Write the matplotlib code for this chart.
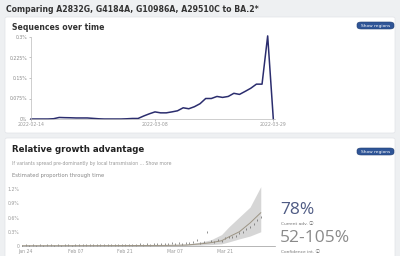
import matplotlib
matplotlib.use("Agg")
import matplotlib.pyplot as plt
from matplotlib.patches import FancyBboxPatch

# ---------------- data ----------------
title = "Comparing A2832G, G4184A, G10986A, A29510C to BA.2*"

# Sequences over time (proportion, %), daily from 2022-02-14
seq_values = [0, 0, 0, 0, 0.001, 0.0056, 0.0049, 0.0045, 0.0038, 0.0038, 0.0038,
              0.0023, 0.0008, 0, 0, 0, 0, 0.0008, 0.0019, 0.0019, 0.011, 0.019,
              0.026, 0.0225, 0.0225, 0.026, 0.030, 0.041, 0.0375, 0.045, 0.056,
              0.075, 0.075, 0.0825, 0.079, 0.0825, 0.094, 0.09, 0.101, 0.1125,
              0.1275, 0.1275, 0.304, 0]
seq_xticks = [0, 22, 43]
seq_xlabels = ["2022-02-14", "2022-03-08", "2022-03-29"]
seq_yticks = [0, 0.075, 0.15, 0.225, 0.3]
seq_ylabels = ["0%", "0.075%", "0.15%", "0.225%", "0.3%"]

# Estimated proportion through time (%), day index from 2022-01-23
obs_days = list(range(0, 68))
obs_values = [0.01, 0.02, 0.01, 0.02, 0.01, 0.02, 0.01, 0.02, 0.02, 0.01,
              0.02, 0.01, 0.02, 0.02, 0.01, 0.02, 0.02, 0.03, 0.02, 0.02,
              0.02, 0.03, 0.02, 0.02, 0.03, 0.02, 0.02, 0.03, 0.02, 0.03,
              0.03, 0.02, 0.03, 0.04, 0.03, 0.04, 0.03, 0.05, 0.04, 0.04,
              0.05, 0.05, 0.06, 0.04, 0.06, 0.05, 0.07, 0.06, 0.08, 0.12,
              0.07, 0.09, 0.30, 0.10, 0.08, 0.12, 0.10, 0.16, 0.18, 0.20,
              0.22, 0.28, 0.30, 0.36, 0.40, 0.46, 0.55, 0.62]
fit_days = [0, 20, 40, 46, 50, 53, 56, 58, 61, 64, 67]
fit_median = [0.006, 0.008, 0.012, 0.02, 0.045, 0.07, 0.11, 0.19, 0.30, 0.485, 0.70]
fit_lower = [0.003, 0.004, 0.006, 0.01, 0.02, 0.03, 0.045, 0.085, 0.15, 0.21, 0.30]
fit_upper = [0.010, 0.014, 0.02, 0.04, 0.08, 0.13, 0.24, 0.40, 0.61, 0.82, 1.25]
est_xticks = [1, 15, 29, 43, 57]
est_xlabels = ["Jan 24", "Feb 07", "Feb 21", "Mar 07", "Mar 21"]
est_yticks = [0, 0.3, 0.6, 0.9, 1.2]
est_ylabels = ["0", "0.3%", "0.6%", "0.9%", "1.2%"]

advantage = "78%"
conf_int = "52-105%"

# ---------------- figure ----------------
W, H = 400, 256
fig = plt.figure(figsize=(W / 100, H / 100), dpi=100)
fig.patch.set_facecolor("#eef0f2")
INFO_FONT = ["DejaVu Sans", "Noto Sans CJK SC"]

def fx(x):
    return x / W

def fy(y):
    return 1 - y / H

def card(x0, y0, x1, y1):
    p = FancyBboxPatch((fx(x0), fy(y1)), fx(x1 - x0), (y1 - y0) / H,
                       boxstyle="round,pad=0,rounding_size=0.006",
                       transform=fig.transFigure, facecolor="white",
                       edgecolor="#e2e4e8", linewidth=0.5, zorder=-5)
    fig.patches.append(p)

def button(x0, y0, x1, y1):
    p = FancyBboxPatch((fx(x0), fy(y1)), fx(x1 - x0), (y1 - y0) / H,
                       boxstyle="round,pad=0,rounding_size=0.01",
                       transform=fig.transFigure, facecolor="#2f5597",
                       edgecolor="#1e3c70", linewidth=0.4, zorder=1)
    fig.patches.append(p)
    fig.text(fx((x0 + x1) / 2), fy((y0 + y1) / 2), "Show regions",
             color="white", fontsize=3.2, ha="center", va="center", zorder=2)

card(5, 17, 395, 133)
card(5, 138, 395, 262)

fig.text(fx(6), fy(10), title, fontsize=5.6, fontweight="bold",
         color="#333333", ha="left", va="center")

# ---- card 1 ----
fig.text(fx(12), fy(27), "Sequences over time", fontsize=5.6,
         fontweight="bold", color="#333333", ha="left", va="center")
button(357, 22, 394, 29)

ax1 = fig.add_axes([fx(31), fy(119), fx(244), 82 / H])
ax1.plot(range(len(seq_values)), seq_values, color="#2b2d6e", lw=1.1,
         solid_joinstyle="round", clip_on=False)
ax1.set_xlim(0, 43.3)
ax1.set_ylim(0, 0.3)
ax1.set_xticks(seq_xticks)
ax1.set_xticklabels(seq_xlabels)
ax1.set_yticks(seq_yticks)
ax1.set_yticklabels(seq_ylabels)
for s in ["top", "right"]:
    ax1.spines[s].set_visible(False)
for s in ["left", "bottom"]:
    ax1.spines[s].set_color("#bbbbbb")
    ax1.spines[s].set_linewidth(0.5)
ax1.tick_params(labelsize=3.3, colors="#999999", length=1.5, width=0.4, pad=1)
ax1.patch.set_alpha(0)
for lbl in ax1.get_yticklabels():
    lbl.set_color("#888888")

# ---- card 2 ----
fig.text(fx(12), fy(150), "Relative growth advantage", fontsize=6.2,
         fontweight="bold", color="#222222", ha="left", va="center")
button(357, 148, 394, 155)
fig.text(fx(12), fy(163),
         "If variants spread pre-dominantly by local transmission ... Show more",
         fontsize=3.3, color="#999999", ha="left", va="center")
fig.text(fx(12), fy(175), "Estimated proportion through time",
         fontsize=3.8, color="#888888", ha="left", va="center")

ax2 = fig.add_axes([fx(22), fy(246), fx(253), 66 / H])
ax2.fill_between(fit_days, fit_lower, fit_upper, color="#d6d6d6", lw=0)
ax2.plot(fit_days, fit_median, color="#9c9484", lw=0.7)
ax2.scatter(obs_days, obs_values, marker="|", s=2.5, color="#555555", lw=0.45)
ax2.set_xlim(0, 71)
ax2.set_ylim(0, 1.39)
ax2.set_xticks(est_xticks)
ax2.set_xticklabels(est_xlabels)
ax2.set_yticks(est_yticks)
ax2.set_yticklabels(est_ylabels)
for s in ["top", "right", "left"]:
    ax2.spines[s].set_visible(False)
ax2.spines["bottom"].set_color("#999999")
ax2.spines["bottom"].set_linewidth(0.5)
ax2.tick_params(labelsize=3.3, colors="#999999", length=0, pad=2)
ax2.patch.set_alpha(0)

fig.text(fx(280), fy(210), advantage, fontsize=12.5, family="Open Sans",
         color="#4f5b84", ha="left", va="center")
fig.text(fx(281), fy(224), "Current adv. \u24d8", fontsize=3.2,
         family=INFO_FONT, color="#777777", ha="left", va="center")
fig.text(fx(280), fy(238), conf_int, fontsize=12.5, family="Open Sans",
         color="#8a8a8a", ha="left", va="center")
fig.text(fx(281), fy(252), "Confidence int. \u24d8", fontsize=3.2,
         family=INFO_FONT, color="#777777", ha="left", va="center")

fig.savefig("out.png", dpi=100)
